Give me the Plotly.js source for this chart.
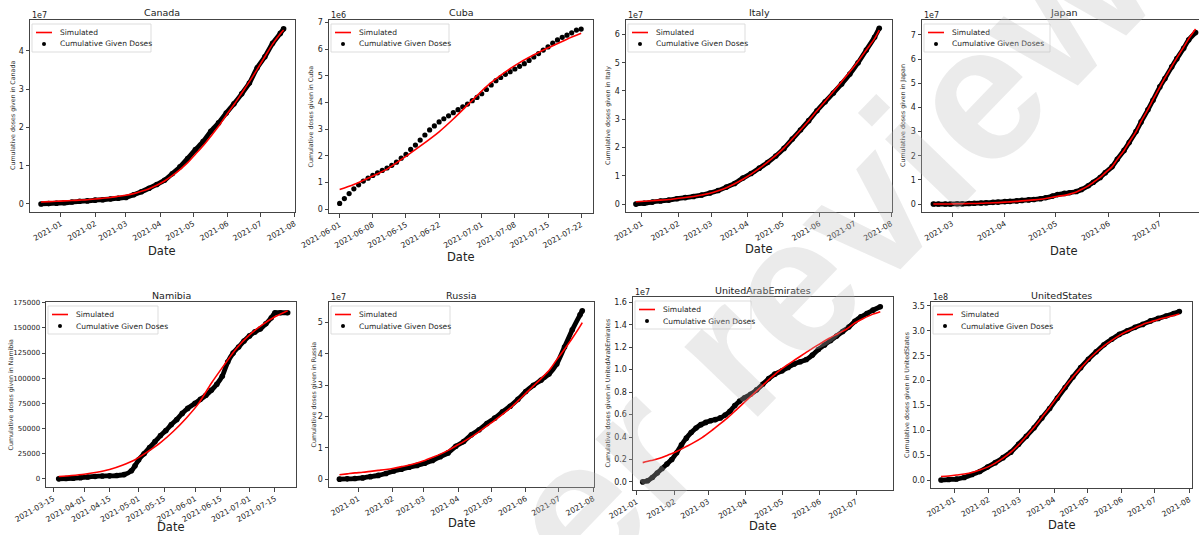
<!DOCTYPE html>
<html><head><meta charset="utf-8">
<script src="https://cdn.plot.ly/plotly-3.0.1.min.js"></script>
<style>html,body{margin:0;padding:0;background:#fff}#chart{width:1199px;height:535px}</style>
</head><body><div id="chart"></div>
<script>
// ---------------- DATA ----------------
const canadaDates = ['2020-12-14','2020-12-21','2020-12-28','2021-01-04','2021-01-11','2021-01-18','2021-01-25','2021-02-01','2021-02-08','2021-02-15','2021-02-22','2021-03-01','2021-03-08','2021-03-15','2021-03-22','2021-03-29','2021-04-05','2021-04-12','2021-04-19','2021-04-26','2021-05-03','2021-05-10','2021-05-17','2021-05-24','2021-05-31','2021-06-07','2021-06-14','2021-06-21','2021-06-28','2021-07-05','2021-07-12','2021-07-19','2021-07-22'];
const canadaGiven = [0,0.01e7,0.02e7,0.03e7,0.05e7,0.07e7,0.08e7,0.10e7,0.11e7,0.13e7,0.15e7,0.17e7,0.24e7,0.32e7,0.41e7,0.51e7,0.62e7,0.79e7,0.97e7,1.19e7,1.42e7,1.63e7,1.90e7,2.12e7,2.38e7,2.62e7,2.88e7,3.16e7,3.56e7,3.85e7,4.20e7,4.46e7,4.58e7];
const canadaSim = [0.05e7,0.06e7,0.07e7,0.08e7,0.09e7,0.10e7,0.11e7,0.13e7,0.15e7,0.17e7,0.20e7,0.23e7,0.27e7,0.33e7,0.40e7,0.49e7,0.60e7,0.74e7,0.90e7,1.08e7,1.30e7,1.52e7,1.77e7,2.03e7,2.32e7,2.60e7,2.90e7,3.20e7,3.52e7,3.85e7,4.18e7,4.45e7,4.55e7];

const cubaDates = ['2021-06-01','2021-06-02','2021-06-03','2021-06-04','2021-06-05','2021-06-06','2021-06-07','2021-06-08','2021-06-09','2021-06-10','2021-06-11','2021-06-12','2021-06-13','2021-06-14','2021-06-15','2021-06-16','2021-06-17','2021-06-18','2021-06-19','2021-06-20','2021-06-21','2021-06-22','2021-06-23','2021-06-24','2021-06-25','2021-06-26','2021-06-27','2021-06-28','2021-06-29','2021-06-30','2021-07-01','2021-07-02','2021-07-03','2021-07-04','2021-07-05','2021-07-06','2021-07-07','2021-07-08','2021-07-09','2021-07-10','2021-07-11','2021-07-12','2021-07-13','2021-07-14','2021-07-15','2021-07-16','2021-07-17','2021-07-18','2021-07-19','2021-07-20','2021-07-21','2021-07-22'];
const cubaGiven = [0.21e6,0.39e6,0.58e6,0.76e6,0.91e6,1.05e6,1.16e6,1.26e6,1.36e6,1.45e6,1.54e6,1.64e6,1.76e6,1.91e6,2.05e6,2.24e6,2.40e6,2.59e6,2.78e6,2.97e6,3.12e6,3.27e6,3.39e6,3.50e6,3.62e6,3.73e6,3.84e6,3.94e6,4.07e6,4.19e6,4.33e6,4.49e6,4.66e6,4.82e6,4.94e6,5.06e6,5.16e6,5.26e6,5.36e6,5.46e6,5.58e6,5.71e6,5.84e6,5.97e6,6.09e6,6.23e6,6.35e6,6.45e6,6.53e6,6.62e6,6.72e6,6.76e6];
const cubaSimDates = ['2021-06-01','2021-06-04','2021-06-08','2021-06-11','2021-06-15','2021-06-18','2021-06-22','2021-06-25','2021-06-29','2021-07-02','2021-07-06','2021-07-09','2021-07-13','2021-07-16','2021-07-19','2021-07-22'];
const cubaSim = [0.73e6,0.92e6,1.24e6,1.50e6,1.98e6,2.36e6,2.90e6,3.38e6,4.08e6,4.60e6,5.15e6,5.50e6,5.88e6,6.13e6,6.38e6,6.60e6];

const italyDates = ['2020-12-27','2021-01-03','2021-01-10','2021-01-17','2021-01-24','2021-01-31','2021-02-07','2021-02-14','2021-02-21','2021-02-28','2021-03-07','2021-03-14','2021-03-21','2021-03-28','2021-04-04','2021-04-11','2021-04-18','2021-04-25','2021-05-02','2021-05-09','2021-05-16','2021-05-23','2021-05-30','2021-06-06','2021-06-13','2021-06-20','2021-06-27','2021-07-04','2021-07-11','2021-07-18','2021-07-22'];
const italyGiven = [0,0.03e7,0.07e7,0.11e7,0.14e7,0.19e7,0.23e7,0.27e7,0.32e7,0.39e7,0.48e7,0.60e7,0.73e7,0.92e7,1.08e7,1.27e7,1.47e7,1.70e7,1.97e7,2.30e7,2.62e7,2.95e7,3.30e7,3.62e7,3.93e7,4.25e7,4.60e7,5.00e7,5.45e7,5.90e7,6.22e7];
const italySim = [0.08e7,0.10e7,0.12e7,0.14e7,0.16e7,0.20e7,0.23e7,0.27e7,0.32e7,0.38e7,0.47e7,0.58e7,0.72e7,0.88e7,1.06e7,1.26e7,1.48e7,1.72e7,1.99e7,2.30e7,2.62e7,2.95e7,3.30e7,3.64e7,3.98e7,4.33e7,4.68e7,5.05e7,5.45e7,5.85e7,6.15e7];

const japanDates = ['2021-02-18','2021-02-21','2021-02-25','2021-02-28','2021-03-04','2021-03-07','2021-03-11','2021-03-14','2021-03-18','2021-03-21','2021-03-25','2021-03-28','2021-04-01','2021-04-04','2021-04-08','2021-04-11','2021-04-15','2021-04-18','2021-04-22','2021-04-25','2021-04-29','2021-05-02','2021-05-06','2021-05-09','2021-05-13','2021-05-16','2021-05-20','2021-05-23','2021-05-27','2021-05-30','2021-06-03','2021-06-06','2021-06-10','2021-06-13','2021-06-17','2021-06-20','2021-06-24','2021-06-27','2021-07-01','2021-07-04','2021-07-08','2021-07-11','2021-07-15','2021-07-18','2021-07-22'];
const japanGiven = [0,0,0,0,0.01e7,0.01e7,0.02e7,0.03e7,0.04e7,0.05e7,0.07e7,0.08e7,0.10e7,0.11e7,0.13e7,0.15e7,0.17e7,0.19e7,0.22e7,0.26e7,0.33e7,0.39e7,0.44e7,0.47e7,0.52e7,0.60e7,0.76e7,0.90e7,1.10e7,1.30e7,1.55e7,1.85e7,2.22e7,2.55e7,3.00e7,3.40e7,3.90e7,4.30e7,4.85e7,5.20e7,5.68e7,6.02e7,6.45e7,6.80e7,7.10e7];
const japanSim = [0,0,0,0,0.01e7,0.01e7,0.02e7,0.02e7,0.03e7,0.04e7,0.05e7,0.06e7,0.08e7,0.09e7,0.11e7,0.13e7,0.15e7,0.17e7,0.20e7,0.23e7,0.28e7,0.32e7,0.36e7,0.41e7,0.50e7,0.60e7,0.75e7,0.90e7,1.10e7,1.30e7,1.55e7,1.85e7,2.22e7,2.56e7,3.00e7,3.42e7,3.92e7,4.32e7,4.84e7,5.22e7,5.70e7,6.05e7,6.50e7,6.85e7,7.25e7];

const namibiaDates = ['2021-03-18','2021-03-22','2021-03-26','2021-03-30','2021-04-03','2021-04-07','2021-04-11','2021-04-15','2021-04-19','2021-04-23','2021-04-27','2021-04-29','2021-05-01','2021-05-04','2021-05-07','2021-05-10','2021-05-13','2021-05-16','2021-05-19','2021-05-22','2021-05-25','2021-05-28','2021-06-01','2021-06-04','2021-06-07','2021-06-10','2021-06-13','2021-06-16','2021-06-19','2021-06-22','2021-06-25','2021-06-28','2021-07-01','2021-07-04','2021-07-07','2021-07-10','2021-07-13','2021-07-15','2021-07-18','2021-07-22'];
const namibiaGiven = [0,300,600,1200,1800,2400,2800,3000,3300,4200,8000,13000,19000,25000,31000,37000,43000,48000,54000,59000,65000,70000,75000,79000,83000,88000,94000,102000,116000,125000,131000,137000,142000,146000,149000,154000,160000,165000,165000,165000];
const namibiaSimDates = ['2021-03-18','2021-03-25','2021-04-01','2021-04-08','2021-04-15','2021-04-22','2021-04-29','2021-05-06','2021-05-13','2021-05-20','2021-05-27','2021-06-03','2021-06-10','2021-06-17','2021-06-24','2021-07-01','2021-07-08','2021-07-15','2021-07-22'];
const namibiaSim = [2300,3300,4600,6600,9300,13500,19000,27000,36000,47000,60000,75000,95000,113000,130000,143000,153000,161000,167000];

const russiaDates = ['2020-12-15','2020-12-22','2020-12-29','2021-01-05','2021-01-12','2021-01-19','2021-01-26','2021-02-02','2021-02-09','2021-02-16','2021-02-23','2021-03-02','2021-03-09','2021-03-16','2021-03-23','2021-03-30','2021-04-06','2021-04-13','2021-04-20','2021-04-27','2021-05-04','2021-05-11','2021-05-18','2021-05-25','2021-06-01','2021-06-08','2021-06-15','2021-06-22','2021-06-29','2021-07-06','2021-07-13','2021-07-20','2021-07-22'];
const russiaGiven = [0,0.01e7,0.02e7,0.04e7,0.08e7,0.12e7,0.18e7,0.26e7,0.32e7,0.38e7,0.44e7,0.51e7,0.60e7,0.72e7,0.84e7,1.05e7,1.20e7,1.42e7,1.58e7,1.78e7,1.95e7,2.15e7,2.33e7,2.55e7,2.80e7,3.00e7,3.17e7,3.36e7,3.68e7,4.22e7,4.77e7,5.25e7,5.38e7];
const russiaSim = [0.14e7,0.17e7,0.20e7,0.22e7,0.25e7,0.28e7,0.31e7,0.35e7,0.40e7,0.45e7,0.52e7,0.60e7,0.70e7,0.80e7,0.92e7,1.06e7,1.20e7,1.35e7,1.52e7,1.70e7,1.88e7,2.07e7,2.27e7,2.50e7,2.74e7,2.98e7,3.22e7,3.47e7,3.82e7,4.15e7,4.50e7,4.88e7,5.00e7];

const uaeDates = ['2021-01-06','2021-01-10','2021-01-14','2021-01-18','2021-01-22','2021-01-26','2021-01-30','2021-02-03','2021-02-07','2021-02-11','2021-02-15','2021-02-19','2021-02-23','2021-02-27','2021-03-03','2021-03-07','2021-03-11','2021-03-15','2021-03-19','2021-03-23','2021-03-27','2021-03-31','2021-04-05','2021-04-10','2021-04-15','2021-04-20','2021-04-25','2021-05-01','2021-05-06','2021-05-11','2021-05-16','2021-05-21','2021-05-26','2021-05-31','2021-06-05','2021-06-10','2021-06-15','2021-06-20','2021-06-25','2021-06-30','2021-07-05','2021-07-10','2021-07-15','2021-07-21'];
const uaeGiven = [0,0.01e7,0.04e7,0.08e7,0.12e7,0.16e7,0.20e7,0.26e7,0.33e7,0.39e7,0.44e7,0.48e7,0.51e7,0.53e7,0.545e7,0.555e7,0.57e7,0.595e7,0.63e7,0.68e7,0.72e7,0.75e7,0.78e7,0.82e7,0.87e7,0.92e7,0.96e7,0.99e7,1.02e7,1.05e7,1.07e7,1.09e7,1.13e7,1.18e7,1.22e7,1.26e7,1.30e7,1.34e7,1.38e7,1.43e7,1.47e7,1.50e7,1.53e7,1.56e7];
const uaeSimDates = ['2021-01-06','2021-01-13','2021-01-20','2021-01-27','2021-02-03','2021-02-10','2021-02-17','2021-02-24','2021-03-03','2021-03-10','2021-03-17','2021-03-24','2021-03-31','2021-04-07','2021-04-14','2021-04-21','2021-04-28','2021-05-05','2021-05-12','2021-05-19','2021-05-26','2021-06-02','2021-06-09','2021-06-16','2021-06-23','2021-06-30','2021-07-07','2021-07-14','2021-07-21'];
const uaeSim = [0.172e7,0.19e7,0.21e7,0.24e7,0.27e7,0.31e7,0.35e7,0.395e7,0.45e7,0.51e7,0.57e7,0.64e7,0.71e7,0.78e7,0.85e7,0.92e7,0.985e7,1.04e7,1.09e7,1.14e7,1.19e7,1.235e7,1.28e7,1.32e7,1.36e7,1.415e7,1.455e7,1.49e7,1.515e7];

const usDates = ['2020-12-20','2020-12-27','2021-01-03','2021-01-10','2021-01-17','2021-01-24','2021-01-31','2021-02-07','2021-02-14','2021-02-21','2021-02-28','2021-03-07','2021-03-14','2021-03-21','2021-03-28','2021-04-04','2021-04-11','2021-04-18','2021-04-25','2021-05-02','2021-05-09','2021-05-16','2021-05-23','2021-05-30','2021-06-06','2021-06-13','2021-06-20','2021-06-27','2021-07-04','2021-07-11','2021-07-18','2021-07-23'];
const usGiven = [0,0.01e8,0.02e8,0.05e8,0.11e8,0.17e8,0.26e8,0.35e8,0.45e8,0.56e8,0.72e8,0.88e8,1.05e8,1.25e8,1.44e8,1.65e8,1.86e8,2.07e8,2.26e8,2.43e8,2.58e8,2.72e8,2.83e8,2.93e8,3.00e8,3.07e8,3.13e8,3.20e8,3.25e8,3.30e8,3.35e8,3.39e8];
const usSim = [0.07e8,0.08e8,0.10e8,0.12e8,0.15e8,0.20e8,0.26e8,0.34e8,0.44e8,0.56e8,0.71e8,0.88e8,1.06e8,1.26e8,1.46e8,1.67e8,1.88e8,2.07e8,2.25e8,2.42e8,2.57e8,2.70e8,2.81e8,2.91e8,2.99e8,3.06e8,3.13e8,3.18e8,3.23e8,3.27e8,3.31e8,3.34e8];

// tick values / labels
const canadaYTicks = [0,1e7,2e7,3e7,4e7], canadaYLabels = ['0','1','2','3','4'];
const cubaYTicks = [0,1e6,2e6,3e6,4e6,5e6,6e6,7e6], cubaYLabels = ['0','1','2','3','4','5','6','7'];
const italyYTicks = [0,1e7,2e7,3e7,4e7,5e7,6e7], italyYLabels = ['0','1','2','3','4','5','6'];
const japanYTicks = [0,1e7,2e7,3e7,4e7,5e7,6e7,7e7], japanYLabels = ['0','1','2','3','4','5','6','7'];
const namibiaYTicks = [0,25000,50000,75000,100000,125000,150000,175000], namibiaYLabels = ['0','25000','50000','75000','100000','125000','150000','175000'];
const russiaYTicks = [0,1e7,2e7,3e7,4e7,5e7], russiaYLabels = ['0','1','2','3','4','5'];
const uaeYTicks = [0,0.2e7,0.4e7,0.6e7,0.8e7,1.0e7,1.2e7,1.4e7,1.6e7], uaeYLabels = ['0.0','0.2','0.4','0.6','0.8','1.0','1.2','1.4','1.6'];
const usYTicks = [0,0.5e8,1e8,1.5e8,2e8,2.5e8,3e8,3.5e8], usYLabels = ['0.0','0.5','1.0','1.5','2.0','2.5','3.0','3.5'];
const monthTicks = ['2021-01-01','2021-02-01','2021-03-01','2021-04-01','2021-05-01','2021-06-01','2021-07-01','2021-08-01'];
const monthLabels = ['2021-01','2021-02','2021-03','2021-04','2021-05','2021-06','2021-07','2021-08'];
const cubaXTicks = ['2021-06-01','2021-06-08','2021-06-15','2021-06-22','2021-07-01','2021-07-08','2021-07-15','2021-07-22'];
const namibiaXTicks = ['2021-03-15','2021-04-01','2021-04-15','2021-05-01','2021-05-15','2021-06-01','2021-06-15','2021-07-01','2021-07-15'];

// ---------------- LAYOUT ----------------
const W = 1199, H = 535;
const FONT = 'DejaVu Sans';
const px = x => x / W, py = y => 1 - y / H;

const panels = [
  {name:'Canada', dates:canadaDates, given:canadaGiven, simDates:canadaDates, sim:canadaSim, frame:[30,295,20,212], xr:['2020-12-04','2021-08-01 08:00'], yr:[-0.21e7,4.81e7], yt:canadaYTicks, yl:canadaYLabels, xt:monthTicks, xl:monthLabels, off:'1e7', ytx:13, dateY:251, lw:119},
  {name:'Cuba', dates:cubaDates, given:cubaGiven, simDates:cubaSimDates, sim:cubaSim, frame:[329,593,20,213], xr:['2021-05-29 18:00','2021-07-24 12:00'], yr:[-0.15e6,7.1e6], yt:cubaYTicks, yl:cubaYLabels, xt:cubaXTicks, xl:cubaXTicks, off:'1e6', ytx:311, dateY:257, lw:118, dots:true},
  {name:'Italy', dates:italyDates, given:italyGiven, simDates:italyDates, sim:italySim, frame:[626,892,20,212], xr:['2020-12-18 14:00','2021-08-01 20:00'], yr:[-0.28e7,6.51e7], yt:italyYTicks, yl:italyYLabels, xt:monthTicks, xl:monthLabels, off:'1e7', ytx:608, dateY:249, lw:117},
  {name:'Japan', dates:japanDates, given:japanGiven, simDates:japanDates, sim:japanSim, frame:[922,1199,20,212], xr:['2021-02-11 08:00','2021-07-24'], yr:[-0.33e7,7.62e7], yt:japanYTicks, yl:japanYLabels, xt:monthTicks, xl:monthLabels, off:'1e7', ytx:903, dateY:251, lw:126, cx:1064, noRight:true},
  {name:'Namibia', dates:namibiaDates, given:namibiaGiven, simDates:namibiaSimDates, sim:namibiaSim, frame:[46,296,302,487], xr:['2021-03-11','2021-07-26 14:00'], yr:[-8100,175700], yt:namibiaYTicks, yl:namibiaYLabels, xt:namibiaXTicks, xl:namibiaXTicks, off:'', ytx:10, dateY:527, lw:110, ytf:7},
  {name:'Russia', dates:russiaDates, given:russiaGiven, simDates:russiaDates, sim:russiaSim, frame:[329,594,302,487], xr:['2020-12-05 14:00','2021-08-01 14:00'], yr:[-0.25e7,5.66e7], yt:russiaYTicks, yl:russiaYLabels, xt:monthTicks, xl:monthLabels, off:'1e7', ytx:313, dateY:523, lw:119},
  {name:'UnitedArabEmirates', dates:uaeDates, given:uaeGiven, simDates:uaeSimDates, sim:uaeSim, frame:[633,893,297,490], xr:['2020-12-29','2021-07-31 12:00'], yr:[-0.072e7,1.647e7], yt:uaeYTicks, yl:uaeYLabels, xt:monthTicks, xl:monthLabels, off:'1e7', ytx:607, dateY:526, lw:116},
  {name:'UnitedStates', dates:usDates, given:usGiven, simDates:usDates, sim:usSim, frame:[931,1192,302,488], xr:['2020-12-11','2021-08-03 10:00'], yr:[-0.16e8,3.58e8], yt:usYTicks, yl:usYLabels, xt:monthTicks, xl:monthLabels, off:'1e8', ytx:907, dateY:525, lw:117}
];

const traces = [];
const layout = {
  width: W, height: H, margin:{l:0,r:0,t:0,b:0},
  paper_bgcolor:'#fff', plot_bgcolor:'#fff', showlegend:false,
  font:{family:FONT, color:'#222'},
  annotations:[], shapes:[]
};

panels.forEach((p, i) => {
  const k = i === 0 ? '' : String(i+1);
  const xa = 'x'+k, ya = 'y'+k;
  const [L, R, T, B] = p.frame;
  const axLine = '#444';
  layout['xaxis'+k] = {
    domain:[px(L), px(R)], anchor:ya, type:'date', range:p.xr,
    tickmode:'array', tickvals:p.xt, ticktext:p.xl, tickangle:-30,
    tickfont:{family:FONT, size:7.6, color:'#222'},
    showline:true, mirror:true, linecolor:axLine, linewidth:1,
    ticks:'outside', ticklen:3.5, tickwidth:1, tickcolor:axLine,
    showgrid:false, zeroline:false, fixedrange:true
  };
  layout['yaxis'+k] = {
    domain:[py(B), py(T)], anchor:xa, range:p.yr,
    tickmode:'array', tickvals:p.yt, ticktext:p.yl,
    tickfont:{family:FONT, size:p.ytf || 8, color:'#222'},
    showline:true, mirror:p.noRight ? false : true, linecolor:axLine, linewidth:1,
    ticks:'outside', ticklen:3.5, tickwidth:1, tickcolor:axLine,
    showgrid:false, zeroline:false, fixedrange:true
  };
  // observed data (black)
  if (p.dots) {
    traces.push({x:p.dates, y:p.given, xaxis:xa, yaxis:ya, mode:'markers', type:'scatter',
      name:'Cumulative Given Doses', marker:{color:'#000', size:5.2}});
  } else {
    traces.push({x:p.dates, y:p.given, xaxis:xa, yaxis:ya, mode:'lines+markers', type:'scatter',
      name:'Cumulative Given Doses', line:{color:'#000', width:4.8, shape:'spline', smoothing:0.6},
      marker:{color:'#000', size:5.6}});
  }
  // simulated (red)
  traces.push({x:p.simDates, y:p.sim, xaxis:xa, yaxis:ya, mode:'lines', type:'scatter',
    name:'Simulated', line:{color:'#ff0000', width:1.6, shape:'spline', smoothing:0.8}});

  const cx = p.cx || (L+R)/2;
  const ann = layout.annotations;
  ann.push({xref:'paper', yref:'paper', x:px(cx), y:py(T-7), text:p.name, showarrow:false,
    xanchor:'center', yanchor:'middle', font:{family:FONT, size:9.5, color:'#222'}});
  if (p.off) ann.push({xref:'paper', yref:'paper', x:px(L), y:py(T-5), text:p.off, showarrow:false,
    xanchor:'left', yanchor:'middle', font:{family:FONT, size:8, color:'#222'}});
  ann.push({xref:'paper', yref:'paper', x:px(p.ytx), y:py((T+B)/2), text:'Cumulative doses given in '+p.name,
    showarrow:false, textangle:-90, xanchor:'center', yanchor:'middle', font:{family:FONT, size:6.3, color:'#333'}});
  ann.push({xref:'paper', yref:'paper', x:px(cx), y:py(p.dateY), text:'Date', showarrow:false,
    xanchor:'center', yanchor:'middle', font:{family:FONT, size:11.5, color:'#222'}});

  // legend box (matplotlib-style)
  const lx = L+2, ly = T+4, lh = 28;
  layout.shapes.push({type:'rect', xref:'paper', yref:'paper', x0:px(lx), x1:px(lx+p.lw), y0:py(ly), y1:py(ly+lh),
    line:{color:'#d4d4d4', width:0.8}, fillcolor:'rgba(255,255,255,0.85)', layer:'above'});
  layout.shapes.push({type:'line', xref:'paper', yref:'paper', x0:px(lx+4), x1:px(lx+20), y0:py(ly+8.5), y1:py(ly+8.5),
    line:{color:'#ff0000', width:1.6}, layer:'above'});
  layout.shapes.push({type:'circle', xref:'paper', yref:'paper', x0:px(lx+10), x1:px(lx+14), y0:py(ly+18), y1:py(ly+22),
    line:{color:'#000', width:0}, fillcolor:'#000', layer:'above'});
  ann.push({xref:'paper', yref:'paper', x:px(lx+26), y:py(ly+8.5), text:'Simulated', showarrow:false,
    xanchor:'left', yanchor:'middle', font:{family:FONT, size:7.5, color:'#222'}});
  ann.push({xref:'paper', yref:'paper', x:px(lx+26), y:py(ly+20), text:'Cumulative Given Doses', showarrow:false,
    xanchor:'left', yanchor:'middle', font:{family:FONT, size:7.5, color:'#222'}});
});

// watermark
layout.annotations.push({xref:'paper', yref:'paper', x:px(430), y:py(660), text:'<b>Preprint not peer reviewed</b>',
  showarrow:false, textangle:-46, xanchor:'center', yanchor:'middle',
  font:{family:'Liberation Sans', size:192, color:'rgba(190,190,190,0.3)'}});

Plotly.newPlot('chart', traces, layout, {staticPlot:true, displayModeBar:false});
</script></body></html>
